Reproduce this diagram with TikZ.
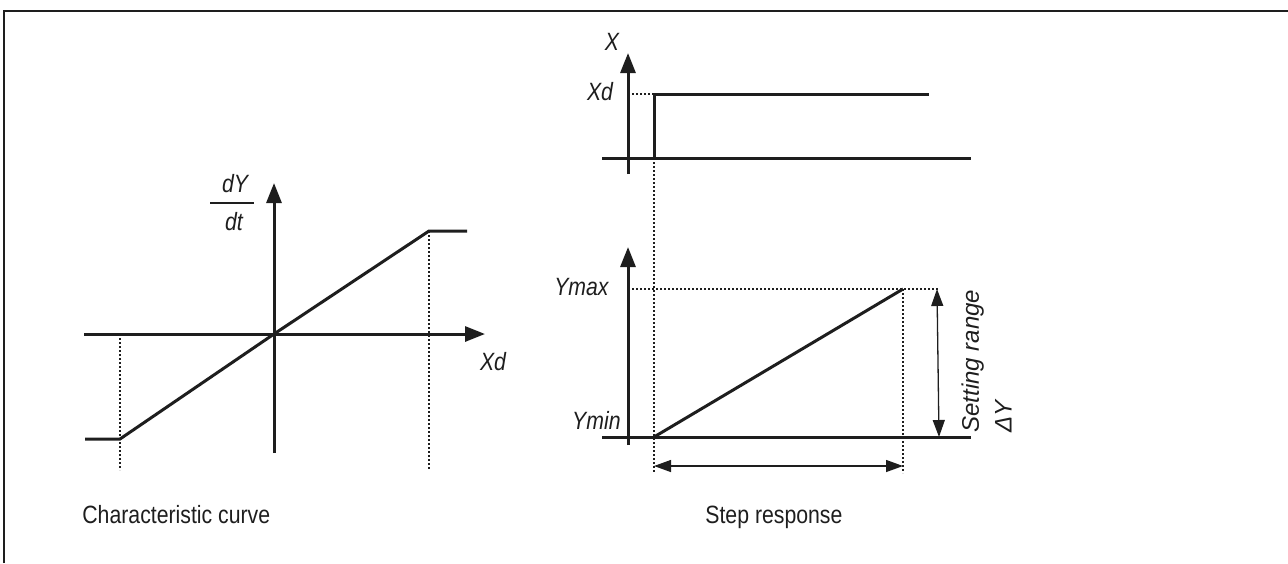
\documentclass[tikz,border=0pt]{standalone}
\usepackage{fontspec}
\setmainfont{Liberation Sans}[FakeStretch=0.85]
\newfontfamily\uprightwide{Liberation Sans}
\usepackage{tikz}
\usetikzlibrary{arrows.meta, positioning, calc}
\definecolor{inkBlack}{RGB}{30,30,30}

\begin{document}
\begin{tikzpicture}[
  x=0.5pt, y=-0.5pt,
  axis/.style={line width=1.5pt, draw=inkBlack, -{Triangle[length=10pt, width=7.5pt]}},
  curve/.style={line width=1.5pt, draw=inkBlack},
  guide/.style={line width=0.6pt, draw=inkBlack, dash pattern=on 0.9pt off 1.1pt},
  dim/.style={line width=0.65pt, draw=inkBlack, {Triangle[length=8.5pt, width=6pt]}-{Triangle[length=8.5pt, width=6pt]}},
  lbl/.style={font=\fontsize{12.5}{15}\selectfont\itshape, text=inkBlack, inner sep=0pt},
  caption/.style={font=\fontsize{12.5}{15}\selectfont, text=inkBlack, inner sep=0pt, anchor=base west}
]
\useasboundingbox (0,0) rectangle (1288,563);

% Frame
\draw[line width=1pt, draw=inkBlack] (4,563) -- (4,11) -- (1288,11);

% Characteristic curve
\coordinate (cOrigin) at (274,334);
\coordinate (cLowEnd) at (120,439);
\coordinate (cHighEnd) at (429,231);
\draw[axis] (84,334) -- (485,334);
\draw[axis] (274,453) -- (274,183);
\draw[curve] (85,439) -- (cLowEnd) -- (cOrigin) -- (cHighEnd) -- (467,231);
\draw[guide] (120,334) -- (120,470);
\draw[guide] (cHighEnd) -- (429,470);
\node (dYlbl) [lbl] at (235,184) {dY};
\node (dtlbl) [lbl] at (234,222) {dt};
\draw[line width=0.75pt, draw=inkBlack] (210,203) -- (254,203);
\node (xdlbl) [lbl] at (493,362) {Xd};

% Step response, input
\coordinate (sFoot) at (654,158);
\coordinate (sTop) at (654,94);
\draw[axis] (628,174) -- (628,53);
\draw[curve] (602,158) -- (971,158);
\draw[curve] (sFoot) -- (sTop) -- (929,94);
\draw[guide] (628,94) -- (sTop);
\node (xlbl) [lbl] at (612,42) {X};
\node (xdtop) [lbl] at (600,92) {Xd};

% Step response, output
\coordinate (rStart) at (654,437);
\coordinate (rEnd) at (903,289);
\draw[axis] (628,445) -- (628,247);
\draw[curve] (602,437) -- (971,437);
\draw[curve] (rStart) -- (rEnd);
\draw[guide] (sFoot) -- (654,473);
\draw[guide] (628,289) -- (938,289);
\draw[guide] (rEnd) -- (903,473);
\draw[dim] (654,466) -- (903,466);
\draw[dim] (937,289) -- (939,437);
\node (ymaxlbl) [lbl, anchor=east] at (609,287) {Ymax};
\node (yminlbl) [lbl, anchor=east] at (621,420) {Ymin};
\node (rangelbl) [lbl, font=\fontsize{12}{14.4}\selectfont\uprightwide\itshape, rotate=90, align=left, anchor=north west] at (961,433) {Setting range\\[2pt]ΔY};

% Captions
\node (capleft) [caption] at (82,523) {Characteristic curve};
\node (capright) [caption] at (705,523) {Step response};

\end{tikzpicture}
\end{document}
